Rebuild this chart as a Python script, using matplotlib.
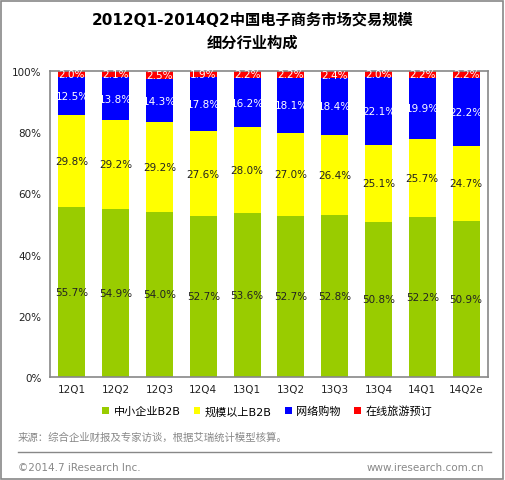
import matplotlib
matplotlib.use("Agg")
import matplotlib.pyplot as plt
import numpy as np
from matplotlib.patches import Rectangle
from matplotlib.lines import Line2D

plt.rcParams['font.family'] = ['DejaVu Sans', 'Noto Sans CJK SC']

quarters = ["12Q1", "12Q2", "12Q3", "12Q4", "13Q1", "13Q2", "13Q3", "13Q4", "14Q1", "14Q2e"]
sme_b2b = [55.7, 54.9, 54.0, 52.7, 53.6, 52.7, 52.8, 50.8, 52.2, 50.9]
large_b2b = [29.8, 29.2, 29.2, 27.6, 28.0, 27.0, 26.4, 25.1, 25.7, 24.7]
online_shop = [12.5, 13.8, 14.3, 17.8, 16.2, 18.1, 18.4, 22.1, 19.9, 22.2]
travel = [2.0, 2.1, 2.5, 1.9, 2.2, 2.2, 2.4, 2.0, 2.2, 2.2]

series = [sme_b2b, large_b2b, online_shop, travel]
names = ["中小企业B2B", "规模以上B2B", "网络购物", "在线旅游预订"]
colors = ["#99CC00", "#FFFF00", "#0000FF", "#FF0000"]
text_colors = ["#222222", "#222222", "white", "white"]

fig = plt.figure(figsize=(5.05, 4.81), dpi=100)
ax = fig.add_axes([50/505, 1-378/481, 438/505, 306/481])

x = np.arange(len(quarters))
bottom = np.zeros(len(quarters))
for vals, name, c, tc in zip(series, names, colors, text_colors):
    vals = np.array(vals)
    ax.bar(x, vals, 0.62, bottom=bottom, color=c, label=name)
    for xi, b, v in zip(x, bottom, vals):
        ax.text(xi, b + v / 2, "%.1f%%" % v, ha="center", va="center",
                fontsize=7.5, color=tc)
    bottom = bottom + vals

ax.set_xlim(-0.5, len(quarters) - 0.5)
ax.set_ylim(0, 100)
ax.set_yticks([0, 20, 40, 60, 80, 100])
ax.set_yticklabels(["0%", "20%", "40%", "60%", "80%", "100%"])
ax.set_xticks(x)
ax.set_xticklabels(quarters)
ax.tick_params(length=0, labelsize=7.5, colors="#222222")
ax.tick_params(axis="y", pad=6)
ax.tick_params(axis="x", pad=5)
for s in ax.spines.values():
    s.set_color("#888888")
    s.set_linewidth(1.2)

fig.text(0.5, 1 - 20/481, "2012Q1-2014Q2中国电子商务市场交易规模", ha="center", va="center",
         fontsize=11, fontweight="bold")
fig.text(0.5, 1 - 43/481, "细分行业构成", ha="center", va="center",
         fontsize=11, fontweight="bold")

leg = fig.legend(loc="center", bbox_to_anchor=(0.529, 1 - 412/481), ncol=4, frameon=False,
                 fontsize=8, handlelength=0.6, handleheight=0.6, handletextpad=0.4,
                 columnspacing=1.2)

fig.text(18/505, 1 - 438/481, "来源：综合企业财报及专家访谈，根据艾瑞统计模型核算。", ha="left", va="center",
         fontsize=7.5, color="#888888")
fig.add_artist(Line2D([18/505, 491/505], [1 - 453/481, 1 - 453/481], color="#888888", lw=1,
                      transform=fig.transFigure))
fig.text(18/505, 1 - 468/481, "©2014.7 iResearch Inc.", ha="left", va="center",
         fontsize=7.5, color="#888888")
fig.text(484/505, 1 - 468/481, "www.iresearch.com.cn", ha="right", va="center",
         fontsize=7.5, color="#888888")
fig.add_artist(Rectangle((0.002, 0.002), 0.994, 0.994, fill=False, edgecolor="#888888", lw=1.2,
                         transform=fig.transFigure))

fig.savefig("out.png", dpi=100)
